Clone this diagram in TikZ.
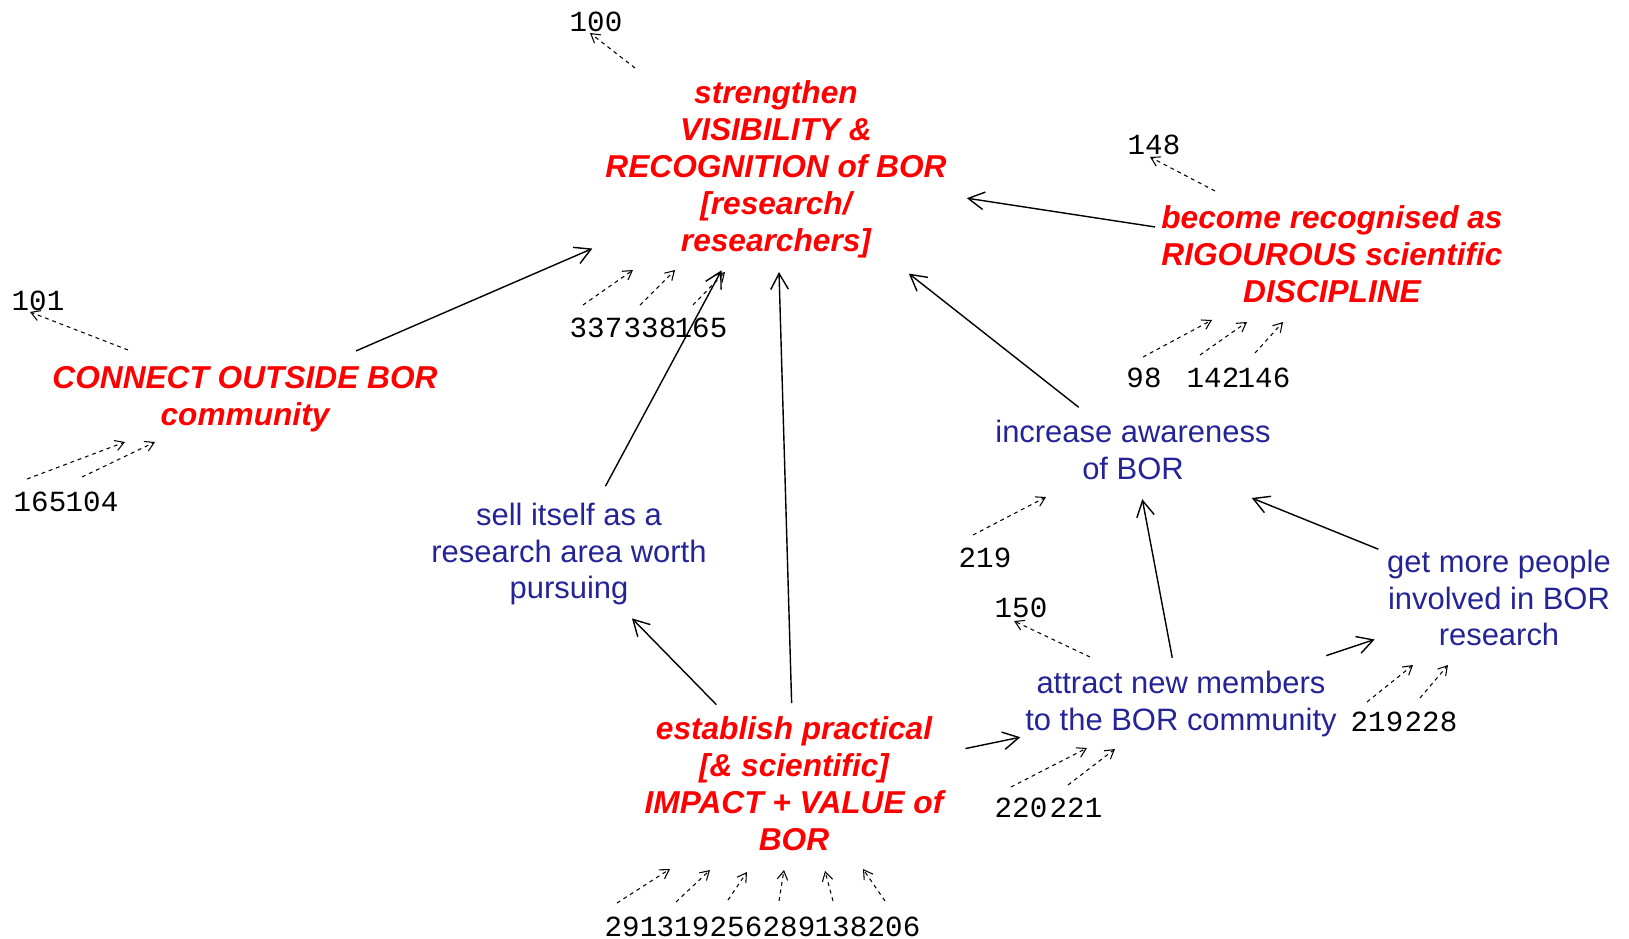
\documentclass[tikz,border=0pt]{standalone}
\usepackage{fontspec}
\setmainfont{Liberation Sans}
\newfontfamily\numfont{Liberation Mono}
\usetikzlibrary{arrows.meta,calc}
\definecolor{bornavy}{RGB}{36,36,150}
\tikzset
{
    goalnode/.style = {align=center, inner sep=0pt, text=red, font=\fontsize{9}{10.5}\selectfont\bfseries\itshape},
    subnode/.style  = {align=center, inner sep=0pt, text=bornavy, font=\fontsize{8.8}{10.5}\selectfont},
    refnode/.style  = {inner sep=0pt, font=\numfont\fontsize{8.3}{10}\selectfont},
    linkline/.style = {line width=0.4pt, -{Straight Barb[length=4.5pt,width=5pt]}},
    refline/.style  = {line width=0.3pt, dash pattern=on 1.1pt off 1.1pt, -{Straight Barb[length=2.5pt,width=3pt]}}
}
\begin{document}
\begin{tikzpicture}[x=0.01cm, y=-0.01cm]
	\useasboundingbox (0,0) rectangle (1629,939);
	% goals
	\node[goalnode] (top) at (776,169) {strengthen\\VISIBILITY \&\\RECOGNITION of BOR\\{[}research/\\researchers{]}};
	\node[goalnode] (rigour) at (1332,254) {become recognised as\\RIGOUROUS scientific\\DISCIPLINE};
	\node[goalnode] (connect) at (245,399) {CONNECT OUTSIDE BOR\\community};
	\node[goalnode] (impact) at (794,784) {establish practical\\{[}\& scientific{]}\\IMPACT + VALUE of\\BOR};
	% sub goals
	\node[subnode] (aware) at (1133,450) {increase awareness\\of BOR};
	\node[subnode] (sell) at (569,554) {sell itself as a\\research area worth\\pursuing};
	\node[subnode] (attract) at (1181,704) {attract new members\\to the BOR community};
	\node[subnode] (involve) at (1499,598) {get more people\\involved in BOR\\research};
	% reference numbers
	\node[refnode] (r100) at (596,22) {100};
	\node[refnode] (r337) at (596,328) {337};
	\node[refnode] (r338) at (650,328) {338};
	\node[refnode] (r165t) at (701,328) {165};
	\node[refnode] (r148) at (1154,145) {148};
	\node[refnode] (r98) at (1144,378) {98};
	\node[refnode] (r142) at (1213,378) {142};
	\node[refnode] (r146) at (1264,378) {146};
	\node[refnode] (r101) at (38,301) {101};
	\node[refnode] (r165c) at (40,502) {165};
	\node[refnode] (r104) at (92,502) {104};
	\node[refnode] (r219a) at (985,558) {219};
	\node[refnode] (r150) at (1021,608) {150};
	\node[refnode] (r220) at (1021,808) {220};
	\node[refnode] (r221) at (1076,808) {221};
	\node[refnode] (r219i) at (1377,722) {219};
	\node[refnode] (r228) at (1431,722) {228};
	\node[refnode] (r291) at (631,927) {291};
	\node[refnode] (r319) at (683,927) {319};
	\node[refnode] (r256) at (736,927) {256};
	\node[refnode] (r289) at (789,927) {289};
	\node[refnode] (r138) at (841,927) {138};
	\node[refnode] (r206) at (894,927) {206};
	% links
	\draw[linkline, shorten <=1.21cm, shorten >=2cm] (connect.center) -- (top.center);
	\draw[linkline, shorten <=0.77cm, shorten >=1.15cm] (sell.center) -- (top.center);
	\draw[linkline, shorten <=0.81cm, shorten >=1.03cm] (impact.center) -- (top.center);
	\draw[linkline, shorten <=0.69cm, shorten >=1.69cm] (aware.center) -- (top.center);
	\draw[linkline, shorten <=1.79cm, shorten >=1.93cm] (rigour.center) -- (top.center);
	\draw[linkline, shorten <=1.11cm, shorten >=0.9cm] (impact.center) -- (sell.center);
	\draw[linkline, shorten <=1.75cm, shorten >=1.64cm] (impact.center) -- (attract.center);
	\draw[linkline, shorten <=0.47cm, shorten >=0.5cm] (attract.center) -- (aware.center);
	\draw[linkline, shorten <=1.53cm, shorten >=1.31cm] (attract.center) -- (involve.center);
	\draw[linkline, shorten <=1.3cm, shorten >=1.28cm] (involve.center) -- (aware.center);
	% reference links
	\draw[refline] ($(top)+(-141,-101)$) -- ($(r100)+(-6,11)$);
	\draw[refline] ($(r337)+(-13,-23)$) -- ($(top)+(-143,101)$);
	\draw[refline] ($(r338)+(-10,-23)$) -- ($(top)+(-101,101)$);
	\draw[refline] ($(r165t)+(-8,-23)$) -- ($(top)+(-51,103)$);
	\draw[refline] ($(rigour)+(-117,-63)$) -- ($(r148)+(-4,12)$);
	\draw[refline] ($(r98)+(-1,-21)$) -- ($(rigour)+(-120,66)$);
	\draw[refline] ($(r142)+(-13,-23)$) -- ($(rigour)+(-85,68)$);
	\draw[refline] ($(r146)+(-9,-25)$) -- ($(rigour)+(-49,68)$);
	\draw[refline] ($(connect)+(-117,-49)$) -- ($(r101)+(-8,11)$);
	\draw[refline] ($(r165c)+(-13,-23)$) -- ($(connect)+(-120,43)$);
	\draw[refline] ($(r104)+(-10,-25)$) -- ($(connect)+(-90,43)$);
	\draw[refline] ($(r219a)+(-12,-23)$) -- ($(aware)+(-87,47)$);
	\draw[refline] ($(attract)+(-91,-47)$) -- ($(r150)+(-7,13)$);
	\draw[refline] ($(r220)+(-10,-21)$) -- ($(attract)+(-94,44)$);
	\draw[refline] ($(r221)+(-8,-23)$) -- ($(attract)+(-66,45)$);
	\draw[refline] ($(r219i)+(-10,-20)$) -- ($(involve)+(-86,67)$);
	\draw[refline] ($(r228)+(-11,-24)$) -- ($(involve)+(-51,67)$);
	\draw[refline] ($(r291)+(-14,-24)$) -- ($(impact)+(-124,85)$);
	\draw[refline] ($(r319)+(-7,-25)$) -- ($(impact)+(-84,86)$);
	\draw[refline] ($(r256)+(-8,-27)$) -- ($(impact)+(-47,88)$);
	\draw[refline] ($(r289)+(-10,-26)$) -- ($(impact)+(-10,86)$);
	\draw[refline] ($(r138)+(-8,-26)$) -- ($(impact)+(31,87)$);
	\draw[refline] ($(r206)+(-9,-26)$) -- ($(impact)+(69,85)$);
\end{tikzpicture}
\end{document}
